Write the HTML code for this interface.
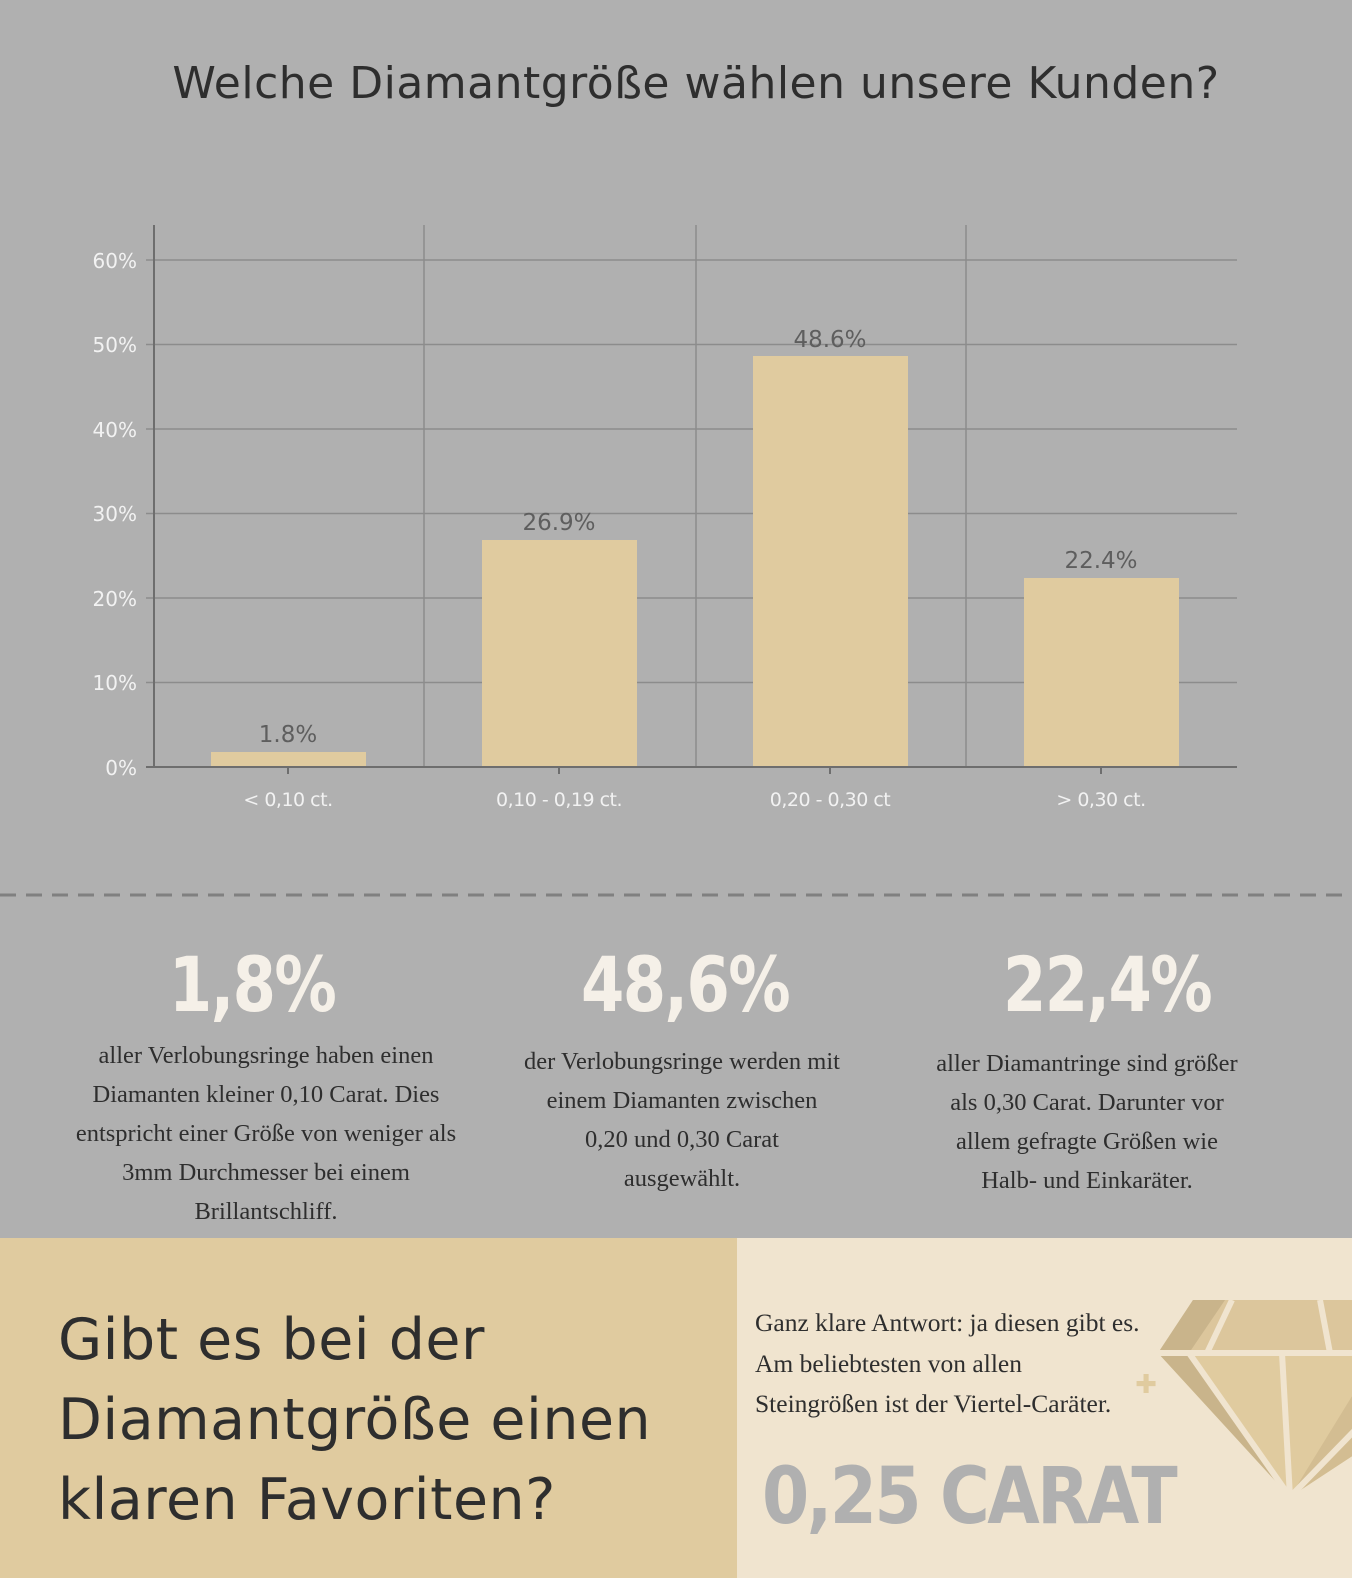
<!DOCTYPE html>
<html><head><meta charset="utf-8"><style>
body{margin:0;width:1352px;height:1578px;overflow:hidden;background:#b0b0b0;font-family:"DejaVu Sans","Liberation Sans",sans-serif;position:relative}
.a{position:absolute}
.big{position:absolute;font-family:"DejaVu Sans",sans-serif;font-weight:bold;font-size:76px;color:#f5f0e8;text-align:center;letter-spacing:-2px;transform:scaleX(0.82)}
.p{position:absolute;font-family:"Liberation Serif",serif;font-size:24.5px;line-height:39px;color:#2e2e2e;text-align:center;white-space:nowrap}
</style></head><body>
<div class="a" style="left:20px;width:1352px;top:58px;text-align:center;font-size:44px;color:#2e2e2e;letter-spacing:0.5px">Welche Diamantgröße wählen unsere Kunden?</div>
<svg class="a" style="left:0;top:0" width="1352" height="900">
<g stroke="#8c8c8c" stroke-width="1.5">
<line x1="146" x2="1237" y1="260" y2="260"/><line x1="146" x2="1237" y1="344.5" y2="344.5"/><line x1="146" x2="1237" y1="429" y2="429"/><line x1="146" x2="1237" y1="513.5" y2="513.5"/><line x1="146" x2="1237" y1="598" y2="598"/><line x1="146" x2="1237" y1="682.5" y2="682.5"/>
<line x1="424" x2="424" y1="225" y2="767"/><line x1="696" x2="696" y1="225" y2="767"/><line x1="966" x2="966" y1="225" y2="767"/>
</g>
<g fill="#e0cb9f">
<rect x="211" y="752" width="155" height="15"/><rect x="482" y="540" width="155" height="227"/><rect x="753" y="356" width="155" height="411"/><rect x="1024" y="578" width="155" height="189"/>
</g>
<g stroke="#6e6e6e" stroke-width="2"><line x1="154" x2="154" y1="225" y2="768"/><line x1="146" x2="1237" y1="767" y2="767"/>
<line x1="288" x2="288" y1="767" y2="774"/><line x1="559" x2="559" y1="767" y2="774"/><line x1="830" x2="830" y1="767" y2="774"/><line x1="1101" x2="1101" y1="767" y2="774"/></g>
<g fill="#f2f2f2" font-family="DejaVu Sans,sans-serif" font-size="20" text-anchor="end">
<text x="137" y="268">60%</text><text x="137" y="352">50%</text><text x="137" y="437">40%</text><text x="137" y="521">30%</text><text x="137" y="606">20%</text><text x="137" y="690">10%</text><text x="137" y="775">0%</text></g>
<g fill="#f2f2f2" font-family="DejaVu Sans,sans-serif" font-size="19" text-anchor="middle" letter-spacing="-0.5">
<text x="288" y="806">&lt; 0,10 ct.</text><text x="559" y="806">0,10 - 0,19 ct.</text><text x="830" y="806">0,20 - 0,30 ct</text><text x="1101" y="806">&gt; 0,30 ct.</text></g>
<g fill="#5e5e5e" font-family="DejaVu Sans,sans-serif" font-size="23" text-anchor="middle">
<text x="288" y="742">1.8%</text><text x="559" y="530">26.9%</text><text x="830" y="347">48.6%</text><text x="1101" y="568">22.4%</text></g>
<line x1="0" x2="1352" y1="895" y2="895" stroke="#808080" stroke-width="3" stroke-dasharray="16,10"/>
</svg>
<div class="big" style="left:97px;width:310px;top:940px">1,8%</div>
<div class="big" style="left:530px;width:310px;top:940px">48,6%</div>
<div class="big" style="left:952px;width:310px;top:940px">22,4%</div>
<div class="p" style="left:66px;width:400px;top:1036px">aller Verlobungsringe haben einen<br>Diamanten kleiner 0,10 Carat. Dies<br>entspricht einer Größe von weniger als<br>3mm Durchmesser bei einem<br>Brillantschliff.</div>
<div class="p" style="left:507px;width:350px;top:1042px">der Verlobungsringe werden mit<br>einem Diamanten zwischen<br>0,20 und 0,30 Carat<br>ausgewählt.</div>
<div class="p" style="left:917px;width:340px;top:1044px">aller Diamantringe sind größer<br>als 0,30 Carat. Darunter vor<br>allem gefragte Größen wie<br>Halb- und Einkaräter.</div>
<div class="a" style="left:0;top:1238px;width:737px;height:340px;background:#e0cb9f"></div>
<div class="a" style="left:737px;top:1238px;width:615px;height:340px;background:#f0e4cf;overflow:hidden">
<svg class="a" style="left:0;top:0" width="615" height="340">
<polygon points="456,62 620,62 620,115 421,115" fill="#dcc69c"/>
<polygon points="421,115 620,115 620,215 553,259" fill="#e0cb9f"/>
<polygon points="456,62 488,62 452,115 421,115" fill="#c9b48b"/>
<polygon points="421,115 452,115 553,259" fill="#c9b48b"/>
<polygon points="620,150 620,215 553,259" fill="#d3bd92"/>
<g stroke="#f0e4cf" stroke-width="6"><line x1="415" x2="620" y1="115" y2="115"/><line x1="495" x2="470" y1="62" y2="115"/><line x1="583" x2="593" y1="62" y2="115"/><line x1="452" x2="553" y1="115" y2="259"/><line x1="545" x2="553" y1="115" y2="259"/><line x1="620" x2="553" y1="190" y2="259"/></g>
<text x="409" y="155" fill="#e0cb9f" font-size="26" text-anchor="middle" font-weight="bold">✚</text>
</svg></div>
<div class="a" style="left:58px;top:1300px;font-size:57px;line-height:80px;color:#2e2e2e;letter-spacing:0.5px">Gibt es bei der<br>Diamantgröße einen<br>klaren Favoriten?</div>
<div class="a" style="left:755px;top:1303px;font-family:'Liberation Serif',serif;font-size:25.5px;line-height:40.5px;color:#2e2e2e;white-space:nowrap">Ganz klare Antwort: ja diesen gibt es.<br>Am beliebtesten von allen<br>Steingrößen ist der Viertel-Caräter.</div>
<div class="a" style="left:762px;top:1452px;font-family:'DejaVu Sans',sans-serif;font-weight:bold;font-size:78px;color:#b0b0b0;letter-spacing:-3px;transform:scaleX(0.87);transform-origin:left top">0,25 CARAT</div>
</body></html>
